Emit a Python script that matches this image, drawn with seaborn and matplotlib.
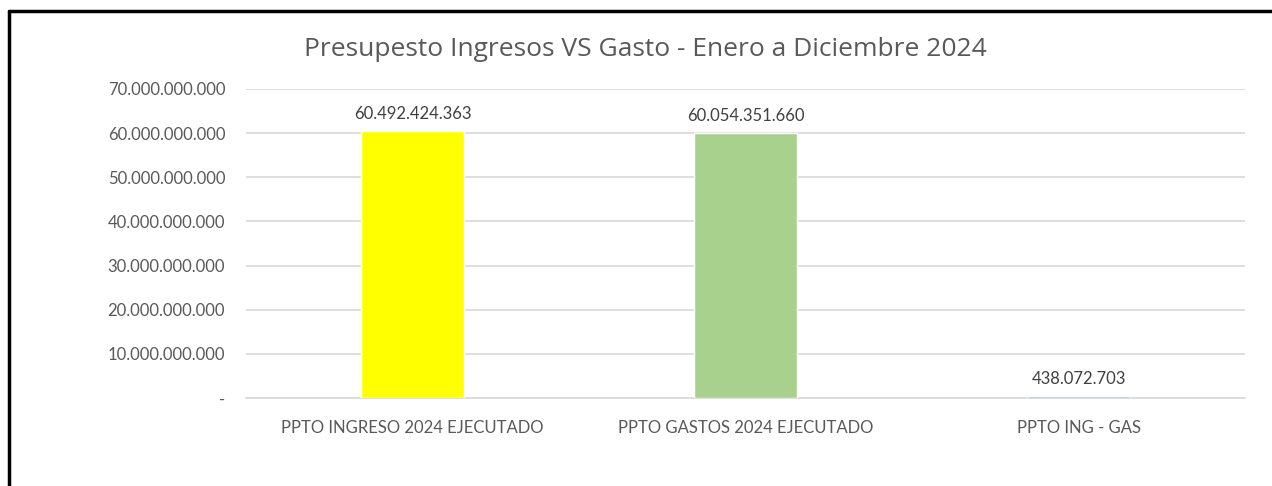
import numpy as np
import pandas as pd
import matplotlib
matplotlib.use("Agg")
import matplotlib.pyplot as plt
import seaborn as sns
from matplotlib.ticker import FuncFormatter, MultipleLocator
from matplotlib.lines import Line2D

# Datos del grafico
categorias = ["PPTO INGRESO 2024 EJECUTADO", "PPTO GASTOS 2024 EJECUTADO", "PPTO ING - GAS"]
valores = [60492424363, 60054351660, 438072703]
colores = ["#FFFF00", "#A9D18E", "#8FB7E0"]

df = pd.DataFrame({"Categoria": categorias, "Valor": valores})

sns.set_style("white")
plt.rcParams["font.family"] = ["Lato", "DejaVu Sans"]

gris = "#595959"

fig = plt.figure(figsize=(12.72, 4.86), dpi=100)
ax = fig.add_axes([0.1934, 0.1811, 0.7854, 0.6358])

sns.barplot(data=df, x="Categoria", y="Valor", hue="Categoria", palette=colores,
            width=0.31, legend=False, ax=ax, saturation=1, zorder=3)

# formato con separador de miles "."
def miles(v, pos=None):
    if v == 0:
        return "-"
    return f"{v:,.0f}".replace(",", ".")

ax.set_ylim(0, 70000000000)
ax.yaxis.set_major_locator(MultipleLocator(10000000000))
ax.yaxis.set_major_formatter(FuncFormatter(miles))
ax.set_xlim(-0.5, 2.5)

ax.grid(axis="y", color="#D9D9D9", linewidth=1.2)
ax.set_axisbelow(True)
for s in ["top", "right", "left"]:
    ax.spines[s].set_visible(False)
ax.spines["bottom"].set_color("#D9D9D9")
ax.spines["bottom"].set_linewidth(1.2)
ax.spines["bottom"].set_zorder(1)

ax.tick_params(axis="y", length=0, pad=15, labelsize=12, labelcolor=gris)
ax.tick_params(axis="x", length=0, pad=16, labelsize=12, labelcolor=gris)
ax.set_xlabel("")
ax.set_ylabel("")

# rotulos de datos
for i, v in enumerate(valores):
    ax.text(i, v + 2000000000, miles(v), ha="center", va="bottom", fontsize=12, color="#404040")

fig.suptitle("Presupesto Ingresos VS Gasto - Enero a Diciembre 2024", x=0.507, y=0.923,
             fontsize=19, color=gris, family=["Open Sans", "DejaVu Sans"])

# marco negro del recorte
fig.add_artist(Line2D([0.0067, 1.0], [0.9774, 0.9774], color="black", linewidth=2.5, transform=fig.transFigure))
fig.add_artist(Line2D([0.0067, 0.0067], [0.0, 0.9774], color="black", linewidth=2.5, transform=fig.transFigure))

fig.savefig("out.png", dpi=100, facecolor="white")
